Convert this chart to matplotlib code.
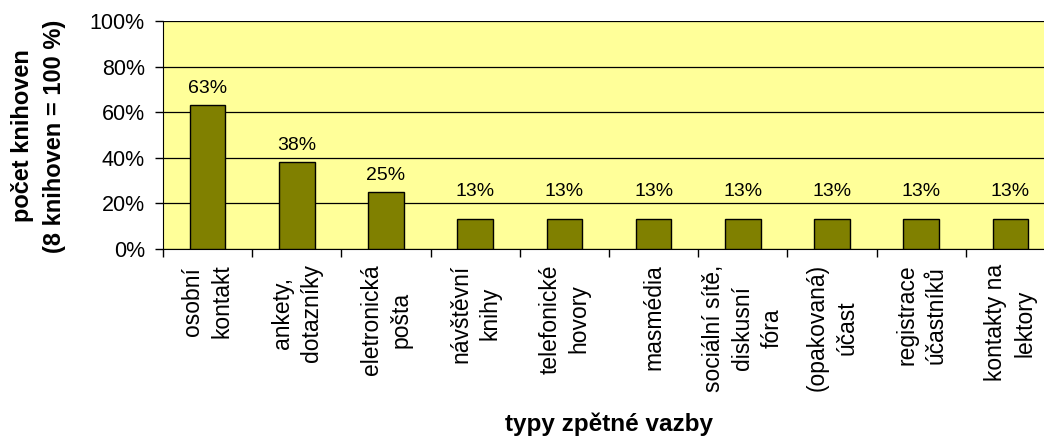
import matplotlib
matplotlib.use("Agg")
import matplotlib.pyplot as plt
import numpy as np

plt.rcParams['font.family'] = ['Liberation Sans', 'DejaVu Sans']

categories = ['osobní\nkontakt', 'ankety,\ndotazníky', 'eletronická\npošta',
              'návštěvní\nknihy', 'telefonické\nhovory', 'masmédia',
              'sociální sítě,\ndiskusní\nfóra', '(opakovaná)\núčast',
              'registrace\núčastníků', 'kontakty na\nlektory']
values = [63, 38, 25, 13, 13, 13, 13, 13, 13, 13]
yticks = [0, 20, 40, 60, 80, 100]

fig = plt.figure(figsize=(10.44, 4.36), dpi=100)
ax = fig.add_axes([163 / 1044, 1 - 249 / 436, (1055 - 163) / 1044, 228 / 436])
ax.set_facecolor('#FFFF99')

x = np.arange(len(categories))
bars = ax.bar(x, values, width=0.4, color='#808000', edgecolor='black', linewidth=1, zorder=3)

# small bars have their labels lifted above the 20% gridline, like in the original
for xi, v in zip(x, values):
    off = 14 if v < 20 else 6
    ax.annotate(f'{v}%', (xi, v), xytext=(0, off), textcoords='offset points',
                ha='center', va='bottom', fontsize=14)

ax.set_xlim(-0.5, len(categories) - 0.5)
ax.set_ylim(0, 100)
ax.set_yticks(yticks)
ax.set_yticklabels([f'{t}%' for t in yticks], fontsize=15.5)
ax.yaxis.grid(True, color='black', linewidth=0.9, zorder=1)
ax.tick_params(axis='y', length=6, width=1, pad=7, direction='out')

ax.set_xticks(x)
ax.set_xticklabels(categories, rotation=90, fontsize=16.5, va='top', ha='center',
                   multialignment='center', linespacing=1.35)
ax.tick_params(axis='x', which='major', length=0, pad=11)
ax.set_xticks(np.arange(-0.5, len(categories)), minor=True)
ax.tick_params(axis='x', which='minor', length=6, width=1, direction='out')

for s in ['top', 'right']:
    ax.spines[s].set_visible(False)
ax.spines['left'].set_color('black')
ax.spines['bottom'].set_color('black')

fig.text(38 / 1044, 1 - 136 / 436, 'počet knihoven\n(8 knihoven = 100 %)', rotation=90,
         ha='center', va='center', multialignment='center', fontsize=17,
         fontweight='bold', linespacing=1.5)
fig.text(609 / 1044, 1 - 424 / 436, 'typy zpětné vazby', ha='center', va='center',
         fontsize=17.5, fontweight='bold')

fig.savefig('out.png', dpi=100)
